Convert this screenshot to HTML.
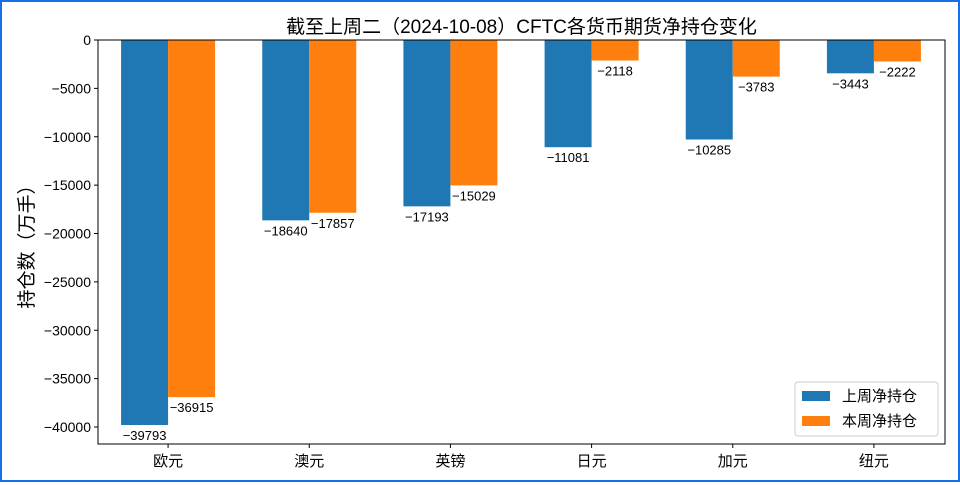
<!DOCTYPE html>
<html><head><meta charset="utf-8"><style>
html,body{margin:0;padding:0;background:#fff}
#wrap{width:956px;height:478px;border:2px solid #1a6fe8;position:relative}
svg text{font-family:"Liberation Sans","Noto Sans CJK SC",sans-serif}
</style></head><body>
<div id="wrap">
<svg id="chart" width="956" height="478"></svg>
</div>
<script>
const categories=["欧元","澳元","英镑","日元","加元","纽元"];
const lastWeek=[-39793,-18640,-17193,-11081,-10285,-3443];
const thisWeek=[-36915,-17857,-15029,-2118,-3783,-2222];
const yTicks=[0,-5000,-10000,-15000,-20000,-25000,-30000,-35000,-40000];
const ns="http://www.w3.org/2000/svg";
const svg=document.getElementById('chart');
const L=96,R=943,T=38,B=442;
function y(v){return T+(-v)*(387/40000);}
const step=(R-L)/6;
function cx(i){return L+step*(i+0.5)-0.5;}
const bw=47;
function mk(t,a,p){const e=document.createElementNS(ns,t);for(const k in a)e.setAttribute(k,a[k]);(p||svg).appendChild(e);return e;}
let e=mk('text',{x:(L+R)/2,y:31,'text-anchor':'middle','font-size':19});e.textContent="截至上周二（2024-10-08）CFTC各货币期货净持仓变化";


e=mk('text',{x:0,y:0,'text-anchor':'middle','font-size':19,transform:`translate(31,${(T+B)/2}) rotate(-90)`});e.textContent="持仓数（万手）";


yTicks.forEach(v=>{
 mk('line',{x1:L-4,x2:L,y1:y(v),y2:y(v),stroke:'#000','stroke-width':1});
 const t=mk('text',{x:L-7,y:y(v)+5,'text-anchor':'end','font-size':14});t.textContent=v<0?'\u2212'+(-v):v;
 
 
});
categories.forEach((c,i)=>{
 const x=cx(i);
 const b1=mk('rect',{x:x-bw,y:y(0),width:bw,height:y(lastWeek[i])-y(0),fill:'#1f77b4'});
 
 
 const b2=mk('rect',{x:x,y:y(0),width:bw,height:y(thisWeek[i])-y(0),fill:'#ff7f0e'});
 
 
 let t=mk('text',{x:x-bw/2,y:y(lastWeek[i])+15,'text-anchor':'middle','font-size':13});t.textContent='\u2212'+(-lastWeek[i]);
 
 
 t=mk('text',{x:x+bw/2,y:y(thisWeek[i])+15,'text-anchor':'middle','font-size':13});t.textContent='\u2212'+(-thisWeek[i]);
 
 
 mk('line',{x1:x,x2:x,y1:B,y2:B+4,stroke:'#000'});
 t=mk('text',{x:x,y:B+22,'text-anchor':'middle','font-size':15});t.textContent=c;
 
 
});
mk('rect',{x:L,y:T,width:R-L,height:B-T,fill:'none',stroke:'#000','stroke-width':1});
const lg=mk('g',{});


mk('rect',{x:793,y:380,width:143,height:54,fill:'#fff',stroke:'#ccc',rx:3},lg);
mk('rect',{x:800,y:389,width:28,height:10,fill:'#1f77b4'},lg);
mk('rect',{x:800,y:414,width:28,height:10,fill:'#ff7f0e'},lg);
let t1=mk('text',{x:840,y:399,'font-size':15},lg);t1.textContent="上周净持仓";
let t2=mk('text',{x:840,y:424,'font-size':15},lg);t2.textContent="本周净持仓";
</script>
</body></html>
